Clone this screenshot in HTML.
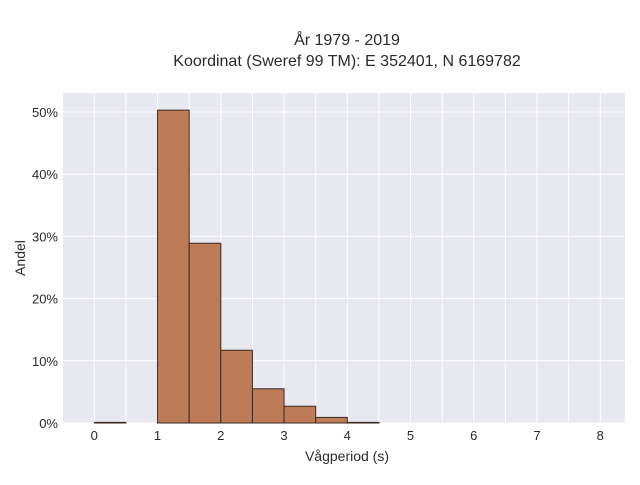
<!DOCTYPE html>
<html><head><meta charset="utf-8"><style>
body{margin:0;background:#fff;}
svg text{font-family:"Liberation Sans",sans-serif;fill:#2a2a2a;}
</style></head><body>
<svg id="chart" width="640" height="480">
<text x="347" y="45" text-anchor="middle" font-size="16">År 1979 - 2019</text>
<text x="347" y="66" text-anchor="middle" font-size="16">Koordinat (Sweref 99 TM): E 352401, N 6169782</text>
<rect x="63" y="93" width="562" height="330" fill="#e8e8f0"/>
<g id="grid"></g><g id="bars"></g><g id="ticks"></g>
<text x="347" y="461" text-anchor="middle" font-size="14">Vågperiod (s)</text>
<text x="25" y="258" text-anchor="middle" font-size="14" transform="rotate(-90 25 258)">Andel</text>
</svg>
<script>
const binStarts=[0,0.5,1,1.5,2,2.5,3,3.5,4];
const shares=[0.1,0,50.3,28.9,11.7,5.5,2.7,0.9,0.1];
const xTicks=[0,1,2,3,4,5,6,7,8];
const yTicks=[0,10,20,30,40,50];
const binWidth=0.5;
const NS="http://www.w3.org/2000/svg";
const X=v=>94.3+v*63.25, Y=p=>423-p*6.22;
function mk(t,a,parent){const e=document.createElementNS(NS,t);for(const k in a)e.setAttribute(k,a[k]);document.getElementById(parent).appendChild(e);return e;}
for(let v=0;v<=8.5;v+=0.5){const g=mk('line',{x1:X(v),x2:X(v),y1:93,y2:423,stroke:'#fff','stroke-width':1},'grid');

}
yTicks.forEach(p=>{const g=mk('line',{x1:63,x2:625,y1:Y(p),y2:Y(p),stroke:'#fff','stroke-width':1},'grid');


const t=mk('text',{x:58,y:Y(p)+5,'text-anchor':'end','font-size':13},'ticks');t.textContent=p+'%';

});
xTicks.forEach(v=>{const t=mk('text',{x:X(v),y:440,'text-anchor':'middle','font-size':13},'ticks');t.textContent=v;

});
binStarts.forEach((b,i)=>{if(shares[i]<=0)return;const r=mk('rect',{x:X(b),y:Y(shares[i]),width:X(b+binWidth)-X(b),height:423-Y(shares[i]),fill:'#bd7b58',stroke:'#3a2a22','stroke-width':1},'bars');

});
</script>
</body></html>
